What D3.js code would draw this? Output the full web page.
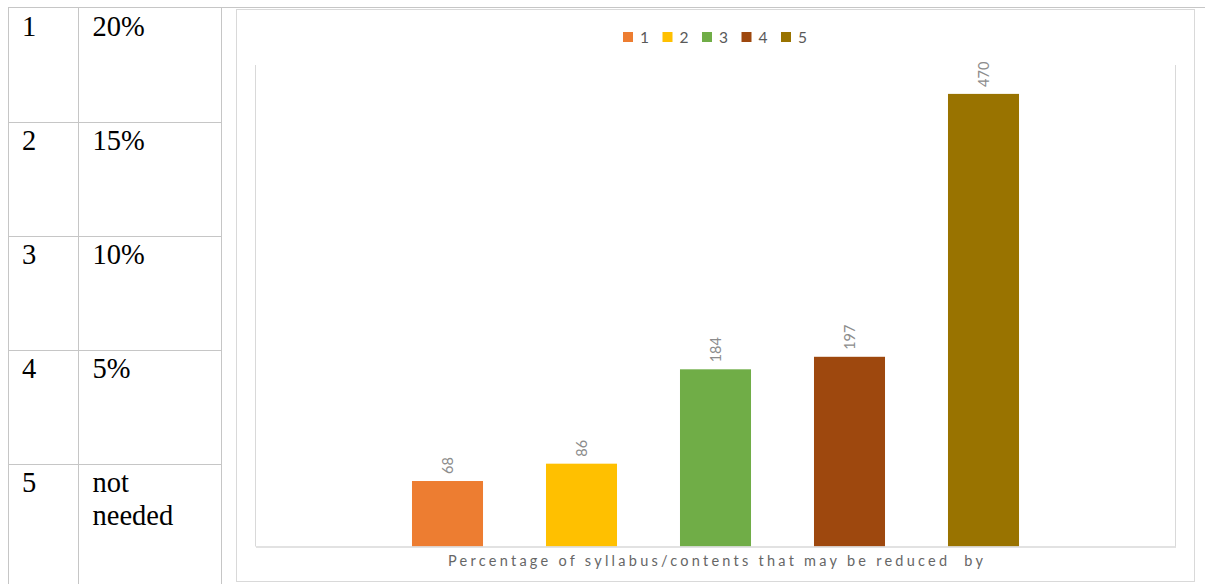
<!DOCTYPE html>
<html>
<head>
<meta charset="utf-8">
<script src="https://cdn.jsdelivr.net/npm/d3@7"></script>
<style>
  html, body { margin: 0; padding: 0; background: #fff; }
  svg { display: block; }
</style>
</head>
<body>
<svg id="page" width="1205" height="584"></svg>
<script>
// Option codes and their meaning (left-hand table)
const optionCodes = ["1", "2", "3", "4", "5"];
const optionMeanings = [["20%"], ["15%"], ["10%"], ["5%"], ["not", "needed"]];

// Responses per option (bar chart)
const seriesNames = ["1", "2", "3", "4", "5"];
const seriesValues = [68, 86, 184, 197, 470];
const seriesColors = ["#ED7D31", "#FFC000", "#70AD47", "#9E480E", "#997300"];
const axisTitle = "Percentage of syllabus/contents that may be reduced  by";
const yMax = 500;

const svg = d3.select("#page");
const gridColor = "#c6c6c6";

// ---------- table ----------
const table = svg.append("g");
const colEdges = [8.5, 78.5, 221.5];
const rowEdges = [8, 122, 236, 350, 464, 600];
const rowY = d3.scaleOrdinal().domain(optionCodes).range(rowEdges.slice(0, 5));

// horizontal rules (top rule spans whole page)
table.append("line")
  .attr("x1", colEdges[0]).attr("x2", 1205)
  .attr("y1", 7.5).attr("y2", 7.5)
  .attr("stroke", gridColor);
rowEdges.slice(1, 5).forEach(y => {
  table.append("line")
    .attr("x1", colEdges[0]).attr("x2", colEdges[2])
    .attr("y1", y + 0.5).attr("y2", y + 0.5)
    .attr("stroke", gridColor);
});
colEdges.forEach(x => {
  table.append("line")
    .attr("x1", x).attr("x2", x)
    .attr("y1", 7).attr("y2", 584)
    .attr("stroke", gridColor);
});

optionCodes.forEach((code, i) => {
  const top = rowY(code);
  table.append("text")
    .attr("x", 22).attr("y", top + 28)
    .attr("font-family", "'Liberation Serif', 'Times New Roman', serif")
    .attr("font-size", 28.5).attr("fill", "#000")
    .text(code);
  const t = table.append("text")
    .attr("x", 92.5).attr("y", top + 28)
    .attr("font-family", "'Liberation Serif', 'Times New Roman', serif")
    .attr("font-size", 28.5).attr("fill", "#000");
  optionMeanings[i].forEach((line, j) => {
    t.append("tspan").attr("x", 92.5).attr("dy", j === 0 ? 0 : 33).text(line);
  });
});

// ---------- chart ----------
// chart frame
svg.append("rect")
  .attr("x", 236.5).attr("y", 9.5)
  .attr("width", 958).attr("height", 572)
  .attr("fill", "#fff").attr("stroke", "#d9d9d9");

const plot = { left: 255.5, right: 1175.5, top: 65, bottom: 546.5 };

const y = d3.scaleLinear().domain([0, yMax]).range([plot.bottom, plot.top]);

// one category holding five series, centred in the plot area
const groupWidth = 670;
const groupLeft = (plot.left + plot.right) / 2 - groupWidth / 2;
const x = d3.scaleBand()
  .domain(seriesNames)
  .range([groupLeft, groupLeft + groupWidth])
  .paddingInner(0.47)
  .paddingOuter(0.235);

const color = d3.scaleOrdinal().domain(seriesNames).range(seriesColors);

// plot-area edges
const edge = svg.append("g").attr("stroke", "#d9d9d9").attr("fill", "none");
edge.append("line").attr("x1", plot.left).attr("x2", plot.left)
  .attr("y1", plot.top).attr("y2", plot.bottom);
edge.append("line").attr("x1", plot.right).attr("x2", plot.right)
  .attr("y1", plot.top).attr("y2", plot.bottom);

const data = seriesNames.map((k, i) => ({ key: k, value: seriesValues[i] }));

svg.append("g").selectAll("rect")
  .data(data).join("rect")
  .attr("x", d => x(d.key))
  .attr("y", d => y(d.value))
  .attr("width", x.bandwidth())
  .attr("height", d => y(0) - y(d.value))
  .attr("fill", d => color(d.key));

// category axis line
svg.append("g")
  .attr("transform", `translate(0,${plot.bottom})`)
  .call(d3.axisBottom(d3.scaleLinear().domain([0, 1]).range([plot.left, plot.right]))
    .ticks(0).tickSize(0).tickFormat(""))
  .call(g => g.select(".domain").attr("stroke", "#d9d9d9").attr("stroke-width", 1.3));

// rotated value labels
svg.append("g").selectAll("text")
  .data(data).join("text")
  .attr("transform", d => `translate(${x(d.key) + x.bandwidth() / 2 + 5},${y(d.value) - 7}) rotate(-90)`)
  .attr("font-family", "Lato, 'Open Sans', sans-serif")
  .attr("font-size", 14.5)
  .attr("fill", "#8c8c8c")
  .text(d => d.value);

// axis title
svg.append("text")
  .attr("x", 448).attr("y", 566)
  .attr("textLength", 535).attr("lengthAdjust", "spacing")
  .attr("font-family", "Lato, 'Open Sans', sans-serif")
  .attr("font-size", 14.5)
  .attr("fill", "#666666")
  .attr("xml:space", "preserve")
  .style("white-space", "pre")
  .text(axisTitle);

// legend
const legendX = d3.scalePoint().domain(seriesNames).range([623, 781]);
const legend = svg.append("g").selectAll("g")
  .data(seriesNames).join("g")
  .attr("transform", d => `translate(${legendX(d)},32)`);
legend.append("rect").attr("width", 10).attr("height", 10).attr("fill", d => color(d));
legend.append("text")
  .attr("x", 17).attr("y", 11)
  .attr("font-family", "Lato, 'Open Sans', sans-serif")
  .attr("font-size", 15.5)
  .attr("fill", "#595959")
  .text(d => d);
</script>
</body>
</html>
